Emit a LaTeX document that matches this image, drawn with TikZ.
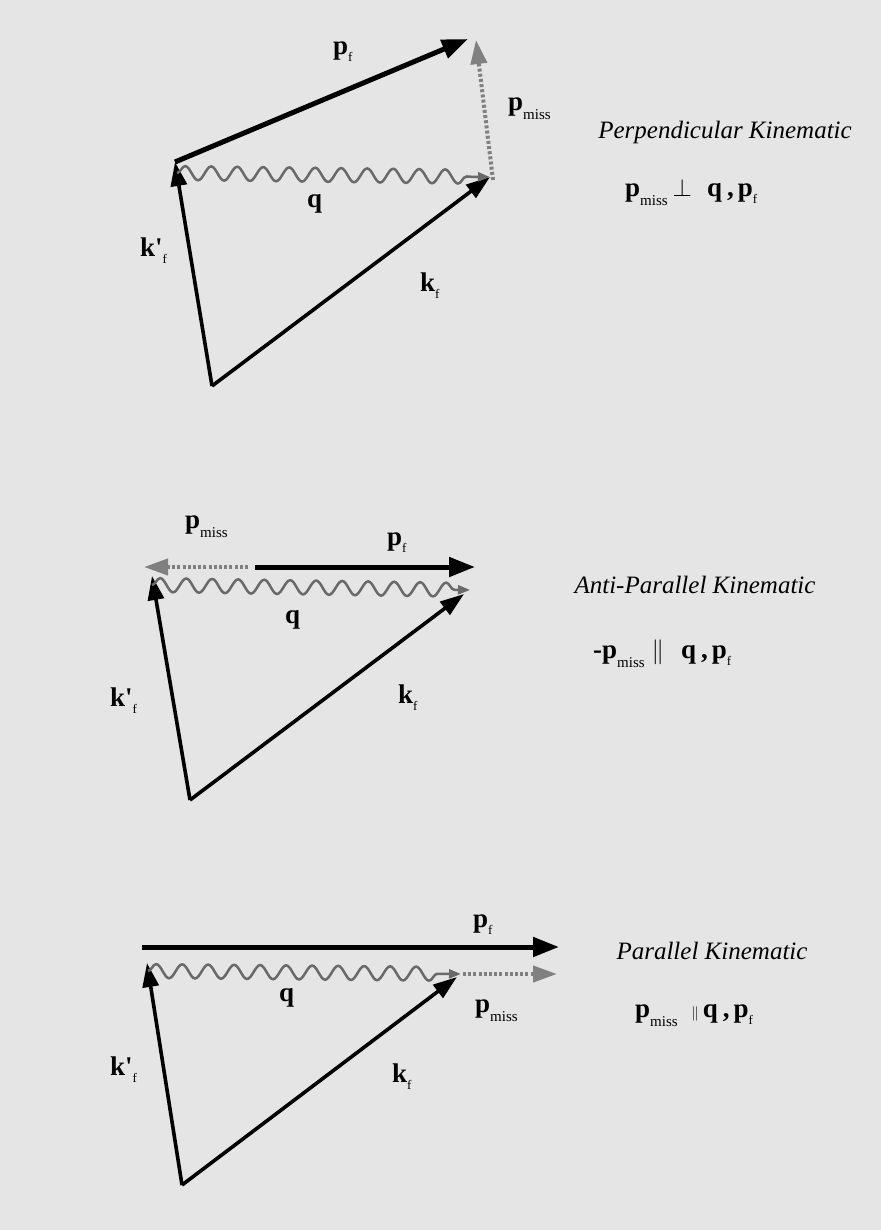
\documentclass[tikz,border=0pt]{standalone}
\usepackage{fontspec}
\setmainfont{Liberation Serif}
\usetikzlibrary{arrows.meta,decorations.pathmorphing}
\definecolor{bg}{RGB}{229,229,229}
\definecolor{wavegray}{RGB}{105,105,105}
\definecolor{missgray}{RGB}{128,128,128}
\newcommand\subm{\raisebox{-9pt}{\fontsize{15}{15}\selectfont\mdseries miss}}
\newcommand\subf{\raisebox{-7pt}{\fontsize{13}{13}\selectfont\mdseries f}}
\newcommand\kprime{\textbf{k\textquotesingle}}
\begin{document}
\begin{tikzpicture}[x=1pt,y=-1pt,
  vec/.style={line width=3.6pt, -{Triangle[length=24pt,width=16pt]}},
  vecthick/.style={line width=5pt, -{Triangle[length=26pt,width=19pt]}},
  wave/.style={draw=wavegray, line width=2.5pt, decorate,
    decoration={snake, amplitude=7pt, segment length=26pt, post length=12pt}},
  wavetip/.style={-{Triangle[length=12pt,width=9pt]}},
  miss/.style={draw=missgray, line width=4pt, dash pattern=on 3pt off 2.2pt,
    -{Triangle[length=24pt,width=16pt]}},
  lbl/.style={font=\fontsize{27}{29}\selectfont\bfseries, inner sep=0pt, anchor=base west},
  title/.style={font=\fontsize{25}{27}\selectfont\itshape, inner sep=0pt},
  formula/.style={font=\fontsize{27}{29}\selectfont\bfseries, inner sep=0pt, anchor=base west}]
\fill[bg] (0,0) rectangle (881,1230);
\useasboundingbox (0,0) rectangle (881,1230);

% ---------- Perpendicular ----------
\coordinate (O1) at (212,386);
\coordinate (K1) at (175,162);
\coordinate (P1) at (468,39);
\coordinate (W1) at (177,173);
\coordinate (Q1) at (490,177);
\coordinate (M1) at (493,180);
\coordinate (N1) at (476,40);
\draw[vec] (O1) -- (K1);
\draw[vec] (O1) -- (Q1);
\draw[vecthick] (K1) -- (P1);
\draw[wave,wavetip] (W1) -- (Q1);
\draw[miss] (M1) -- (N1);
\node[lbl] (pf1) at (333,55) {p\subf};
\node[lbl] (pm1) at (508,111) {p\subm};
\node[lbl] (q1) at (307,208) {q};
\node[lbl] (kp1) at (140,257) {\kprime\subf};
\node[lbl] (kf1) at (420,291) {k\subf};
\node[title] (t1) at (725,132) {Perpendicular Kinematic};
\node[formula] (f1) at (625,197) {p\subm\hspace{5pt}{\mdseries$\perp$}\hspace{15pt}q\hspace{5pt},\hspace{4pt}p\subf};

% ---------- Anti-Parallel ----------
\coordinate (O2) at (190,800);
\coordinate (K2) at (152,576);
\coordinate (W2) at (152,585);
\coordinate (Q2) at (470,590);
\coordinate (R2) at (464,594);
\coordinate (F2s) at (255,567);
\coordinate (F2e) at (475,567);
\coordinate (M2s) at (248,567);
\coordinate (M2e) at (144,567);
\draw[vec] (O2) -- (K2);
\draw[vec] (O2) -- (R2);
\draw[wave,wavetip] (W2) -- (Q2);
\draw[vecthick] (F2s) -- (F2e);
\draw[miss] (M2s) -- (M2e);
\node[lbl] (pm2) at (185,528) {p\subm};
\node[lbl] (pf2) at (387,545) {p\subf};
\node[lbl] (q2) at (285,623) {q};
\node[lbl] (kp2) at (110,706) {\kprime\subf};
\node[lbl] (kf2) at (398,703) {k\subf};
\node[title] (t2) at (695,585) {Anti-Parallel Kinematic};
\node[formula] (f2) at (593,658) {-p\subm\hspace{7pt}{\mdseries$\|$}\hspace{17pt}q\hspace{5pt},\hspace{4pt}p\subf};

% ---------- Parallel ----------
\coordinate (O3) at (182,1185);
\coordinate (K3) at (147,963);
\coordinate (W3) at (148,971);
\coordinate (Q3) at (461,974);
\coordinate (R3) at (457,977);
\coordinate (M3s) at (463,974);
\coordinate (M3e) at (557,974);
\coordinate (F3s) at (142,947);
\coordinate (F3e) at (559,947);
\draw[vec] (O3) -- (K3);
\draw[vec] (O3) -- (R3);
\draw[wave,wavetip] (W3) -- (Q3);
\draw[vecthick] (F3s) -- (F3e);
\draw[miss] (M3s) -- (M3e);
\node[lbl] (pf3) at (473,927) {p\subf};
\node[lbl] (q3) at (279,1001) {q};
\node[lbl] (pm3) at (475,1012) {p\subm};
\node[lbl] (kp3) at (110,1075) {\kprime\subf};
\node[lbl] (kf3) at (392,1082) {k\subf};
\node[title] (t3) at (712,951) {Parallel Kinematic};
\node[formula] (f3) at (635,1017) {p\subm\hspace{14pt}{\fontsize{14}{14}\selectfont\mdseries$\|$}\hspace{4pt}q\hspace{5pt},\hspace{4pt}p\subf};
\end{tikzpicture}
\end{document}
